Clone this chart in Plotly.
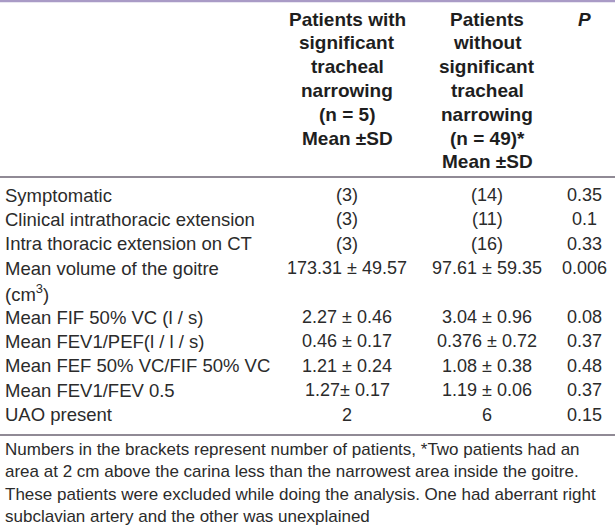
import plotly.graph_objects as go

# ---- data ----
header_col1 = ["Patients with", "significant", "tracheal", "narrowing", "(n = 5)", "Mean ±SD"]
header_col2 = ["Patients", "without", "significant", "tracheal", "narrowing", "(n = 49)*", "Mean ±SD"]
header_p = ["<i>P</i>"]

row_labels = [
    ["Symptomatic"],
    ["Clinical intrathoracic extension"],
    ["Intra thoracic extension on CT"],
    ["Mean volume of the goitre", "(cm<sup>3</sup>)"],
    ["Mean FIF 50% VC (l / s)"],
    ["Mean FEV1/PEF(l / l / s)"],
    ["Mean FEF 50% VC/FIF 50% VC"],
    ["Mean FEV1/FEV 0.5"],
    ["UAO present"],
]
with_narrowing = ["(3)", "(3)", "(3)", "173.31 ± 49.57", "2.27 ± 0.46", "0.46 ± 0.17",
                  "1.21 ± 0.24", "1.27± 0.17", "2"]
without_narrowing = ["(14)", "(11)", "(16)", "97.61 ± 59.35", "3.04 ± 0.96", "0.376 ± 0.72",
                     "1.08 ± 0.38", "1.19 ± 0.06", "6"]
p_values = ["0.35", "0.1", "0.33", "0.006", "0.08", "0.37", "0.48", "0.37", "0.15"]

footnote = [
    "Numbers in the brackets represent number of patients, *Two patients had an",
    "area at 2 cm above the carina less than the narrowest area inside the goitre.",
    "These patients were excluded while doing the analysis. One had aberrant right",
    "subclavian artery and the other was unexplained",
]

# ---- layout constants ----
W, H = 615, 529
X_LABEL, X_C1, X_C2, X_P = 3, 347, 487, 584
HEAD_Y0, HEAD_DY = 19, 23.8
ROW_Y0, ROW_DY = 195, 24.4
FOOT_Y0, FOOT_DY = 449, 22.6
FONT = "Liberation Sans, Arial, Helvetica, sans-serif"
TXT = "#2b2b2b"

fig = go.Figure()
ann = []

def add(x, y, text, anchor="center", size=18, bold=False, color=TXT):
    ann.append(dict(x=x, y=y, xref="x", yref="y", text=("<b>%s</b>" % text) if bold else text,
                    showarrow=False, xanchor=anchor, yanchor="middle",
                    font=dict(family=FONT, size=size, color=color)))

HS = 19
for i, t in enumerate(header_col1):
    add(X_C1, HEAD_Y0 + i * HEAD_DY, t, bold=True, size=HS, color="#1e1e1e")
for i, t in enumerate(header_col2):
    add(X_C2, HEAD_Y0 + i * HEAD_DY, t, bold=True, size=HS, color="#1e1e1e")
for i, t in enumerate(header_p):
    add(X_P, HEAD_Y0 + i * HEAD_DY, t, bold=True, size=HS, color="#1e1e1e")

slot = 0
for lab, v1, v2, p in zip(row_labels, with_narrowing, without_narrowing, p_values):
    y = ROW_Y0 + slot * ROW_DY
    add(X_C1, y, v1)
    add(X_C2, y, v2)
    add(X_P, y, p)
    for j, line in enumerate(lab):
        add(X_LABEL, ROW_Y0 + (slot + j) * ROW_DY, line, anchor="left", size=18.5)
    slot += len(lab)

for i, t in enumerate(footnote):
    add(X_LABEL, FOOT_Y0 + i * FOOT_DY, t, anchor="left", size=17)

shapes = [
    dict(type="line", xref="x", yref="y", x0=0, x1=W, y0=1, y1=1,
         line=dict(color="#a99bc6", width=2.5)),
    dict(type="line", xref="x", yref="y", x0=0, x1=W, y0=177, y1=177,
         line=dict(color="#6b6372", width=1.5)),
    dict(type="line", xref="x", yref="y", x0=0, x1=W, y0=435, y1=435,
         line=dict(color="#6b6372", width=1.5)),
]

fig.update_layout(
    width=W, height=H, margin=dict(l=0, r=0, t=0, b=0),
    paper_bgcolor="white", plot_bgcolor="white",
    xaxis=dict(range=[0, W], visible=False, fixedrange=True),
    yaxis=dict(range=[H, 0], visible=False, fixedrange=True),
    annotations=ann, shapes=shapes, showlegend=False,
)
fig.write_html(
    "out.html",
    config={"displayModeBar": False},
    post_script="document.body.style.margin='0';document.body.style.overflow='hidden';"
                "document.documentElement.style.overflow='hidden';",
)
